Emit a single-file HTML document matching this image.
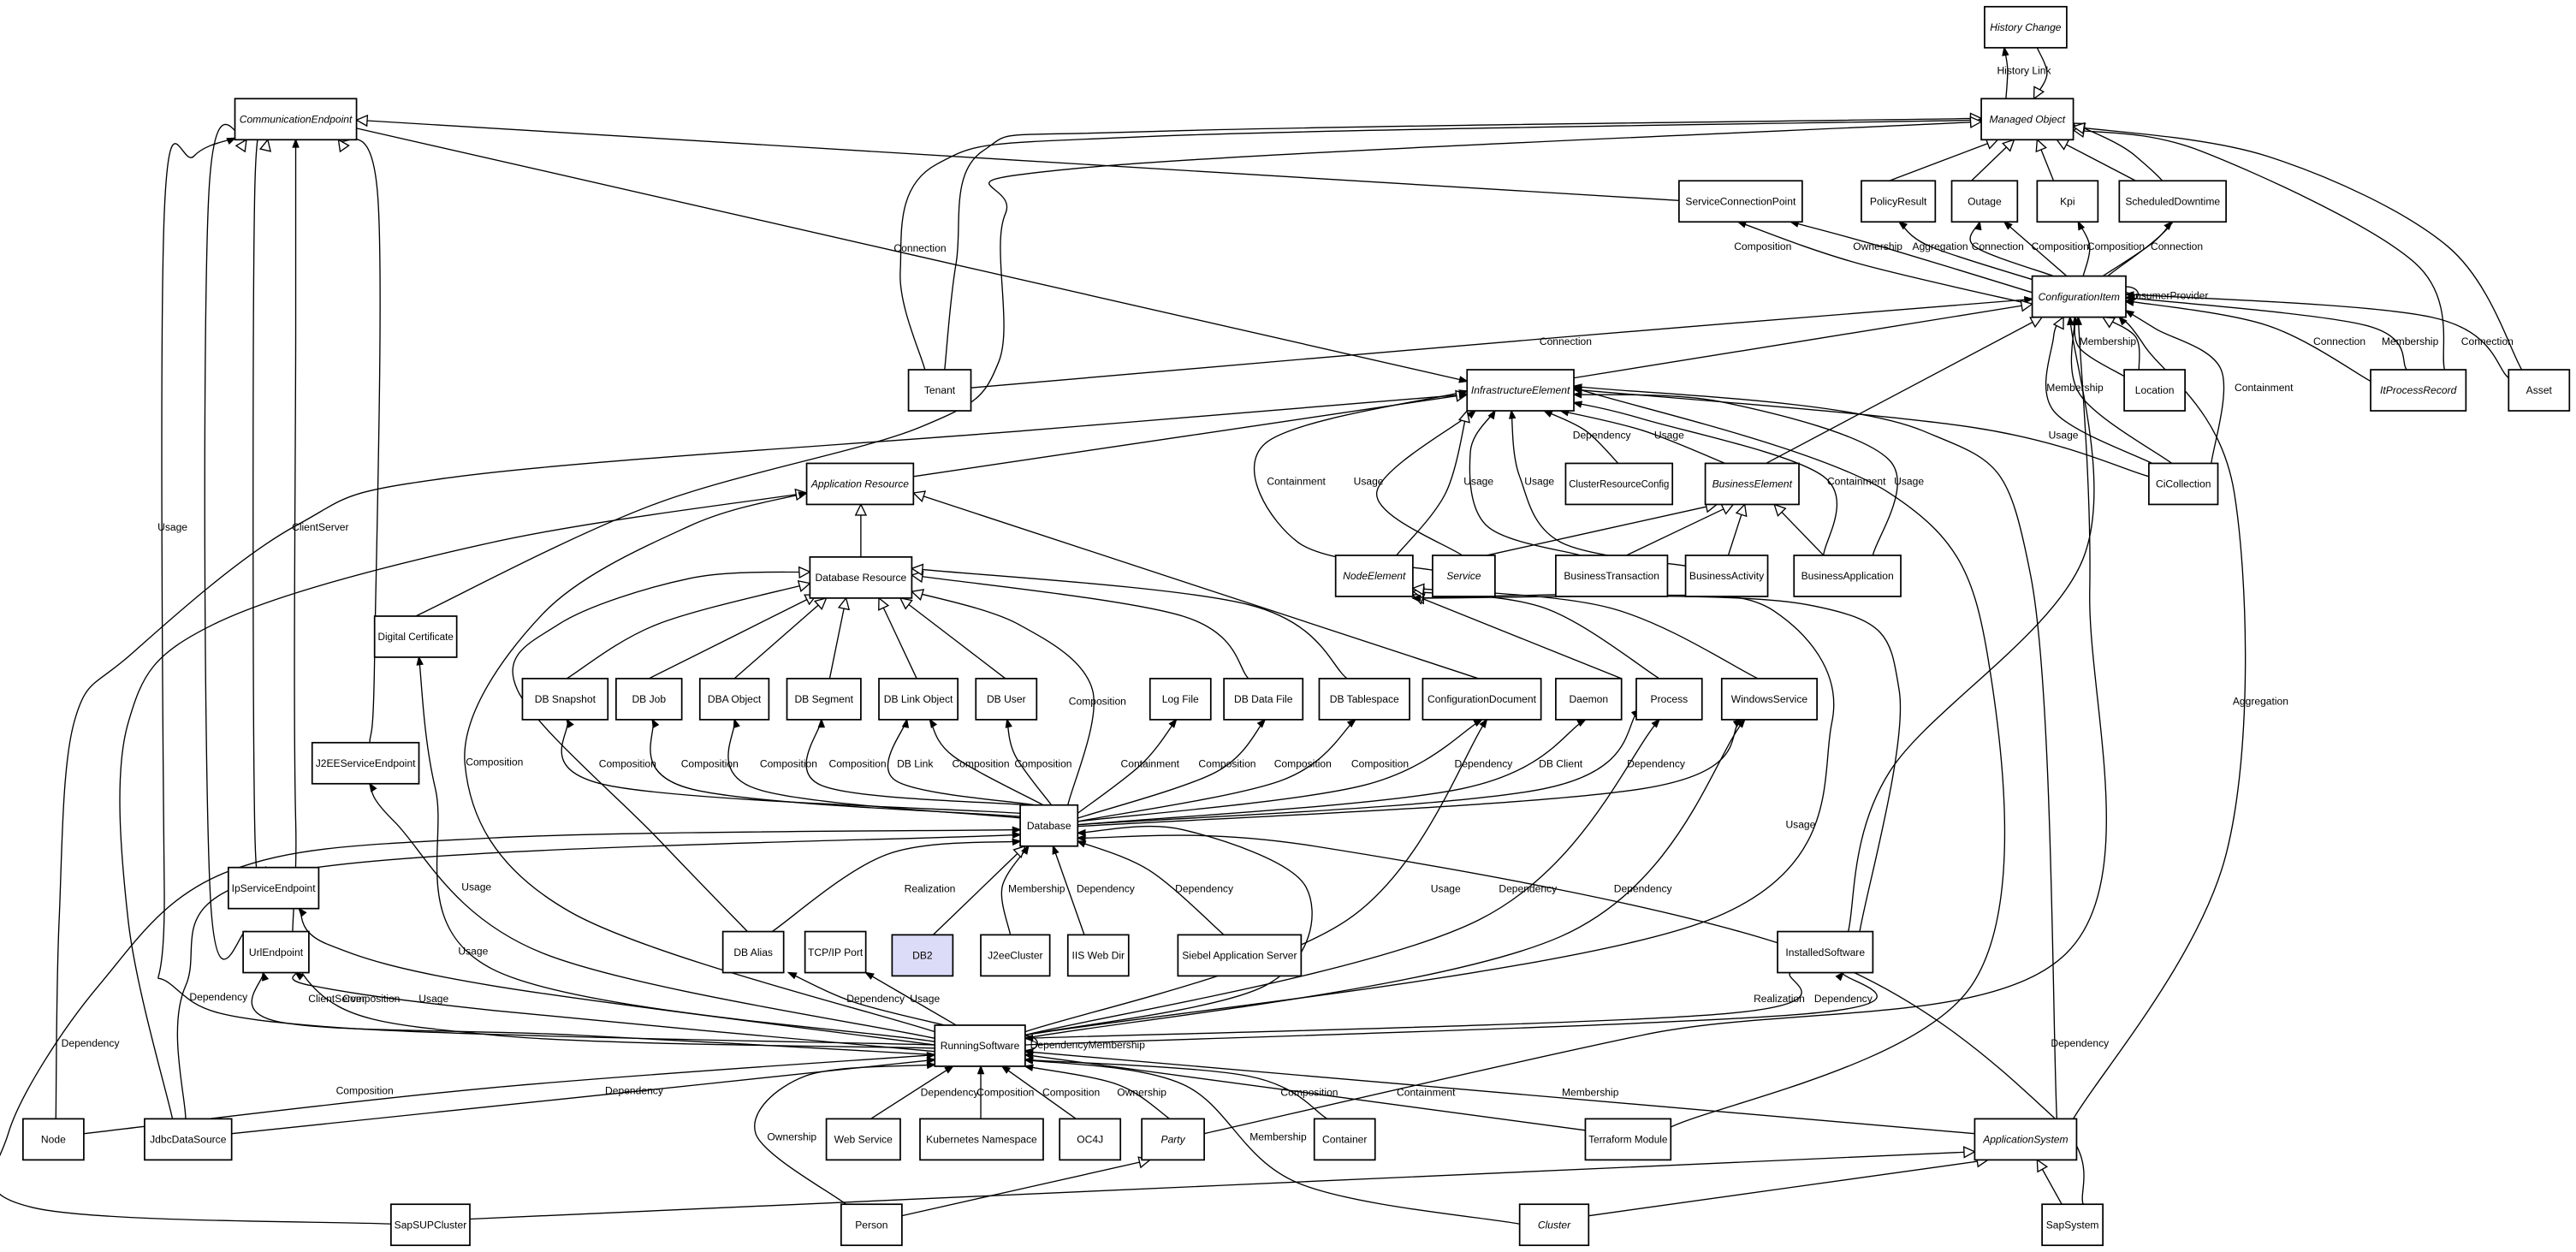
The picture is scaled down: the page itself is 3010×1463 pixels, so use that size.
<!DOCTYPE html>
<html><head><meta charset="utf-8">
<style>
html,body{margin:0;padding:0;background:#fff;}
svg{display:block;}
text{font-family:"Liberation Sans",sans-serif;}
</style></head>
<body>
<svg id="s" width="3010" height="1463" viewBox="0 0 1568 762" xmlns="http://www.w3.org/2000/svg">
<rect width="1568" height="762" fill="#fff"/>
<g id="edges" fill="none" stroke="#000" stroke-width="0.7"></g>
<g id="heads"></g>
<g id="elabels" font-size="6.3" fill="#000"></g>
<g id="nodes"></g>
</svg>
<script>
var N={
HC:[1208,4,50,25,"History Change",1],
MO:[1206,60,56,25,"Managed Object",1],
CE:[143,60,74,25,"CommunicationEndpoint",1],
SCP:[1022,110,75,25,"ServiceConnectionPoint"],
PR:[1133,110,45,25,"PolicyResult"],
OUT:[1188,110,40,25,"Outage"],
KPI:[1240,110,37,25,"Kpi"],
SD:[1290,110,65,25,"ScheduledDowntime"],
CI:[1237,168,57,25,"ConfigurationItem",1],
TEN:[553,225,38,25,"Tenant"],
IE:[893,225,65,25,"InfrastructureElement",1],
LOC:[1293,225,37,25,"Location"],
IPR:[1443,225,58,25,"ItProcessRecord",1],
AS:[1527,225,37,25,"Asset"],
CRC:[953,282,65,25,"ClusterResourceConfig"],
BE:[1038,282,57,25,"BusinessElement",1],
CIC:[1308,282,42,25,"CiCollection"],
AR:[491,282,65,25,"Application Resource",1],
DR:[493,339,62,25,"Database Resource"],
DC:[228,375,50,25,"Digital Certificate"],
NE:[813,338,47,25,"NodeElement",1],
SV:[872,338,38,25,"Service",1],
BT:[947,338,68,25,"BusinessTransaction"],
BA:[1026,338,50,25,"BusinessActivity"],
BAP:[1092,338,65,25,"BusinessApplication"],
DBS:[318,413,52,25,"DB Snapshot"],
DBJ:[375,413,40,25,"DB Job"],
DBA:[426,413,42,25,"DBA Object"],
DBSG:[479,413,45,25,"DB Segment"],
DBL:[535,413,48,25,"DB Link Object"],
DBU:[594,413,37,25,"DB User"],
LF:[700,413,37,25,"Log File"],
DBD:[745,413,48,25,"DB Data File"],
DBT:[803,413,55,25,"DB Tablespace"],
CD:[866,413,72,25,"ConfigurationDocument"],
DAE:[947,413,40,25,"Daemon"],
PRC:[996,413,40,25,"Process"],
WS:[1048,413,58,25,"WindowsService"],
J2S:[190,452,65,25,"J2EEServiceEndpoint"],
DB:[621,490,35,25,"Database"],
IPS:[139,528,55,25,"IpServiceEndpoint"],
URL:[148,567,40,25,"UrlEndpoint"],
DBAL:[440,567,37,25,"DB Alias"],
TCP:[490,567,37,25,"TCP/IP Port"],
DB2:[543,569,37,25,"DB2",0,"#dcdcf8"],
J2C:[597,569,42,25,"J2eeCluster"],
IIS:[650,569,37,25,"IIS Web Dir"],
SAS:[717,569,75,25,"Siebel Application Server"],
IS:[1082,567,58,25,"InstalledSoftware"],
RS:[569,624,55,25,"RunningSoftware"],
NODE:[14,681,37,25,"Node"],
JDS:[88,681,53,25,"JdbcDataSource"],
WEB:[503,681,45,25,"Web Service"],
K8:[560,681,75,25,"Kubernetes Namespace"],
OC:[645,681,37,25,"OC4J"],
PTY:[695,681,38,25,"Party",1],
CON:[800,681,37,25,"Container"],
TF:[965,681,52,25,"Terraform Module"],
APS:[1202,681,62,25,"ApplicationSystem",1],
SUP:[238,733,48,25,"SapSUPCluster"],
PER:[512,733,37,25,"Person"],
CL:[925,733,42,25,"Cluster",1],
SAP:[1243,733,37,25,"SapSystem"]
};
var E=[
["History Link","a",[1221,60],[[1222,42]],[1220,29],1232,45],
["","g",[1240,29],[[1246,45]],[1238,60]],
["","g",[1150,110],[],[1216,85]],
["","g",[1200,110],[],[1226,85]],
["","g",[1250,110],[],[1240,85]],
["","g",[1300,110],[],[1252,85]],
["","g",[1283,168],[[1325,130],[1300,95]],[1262,75]],
["","g",[1488,225],[[1470,160],[1340,92]],[1262,79]],
["","g",[1535,225],[[1490,150],[1380,95]],[1262,77]],
["","g",[1022,122],[],[217,73]],
["","g",[563,225],[[548,165],[570,100],[700,83]],[1206,73]],
["","g",[575,225],[[582,160],[598,92],[700,80]],[1206,72]],
["","g",[253,375],[[398,307],[560,260],[608,220],[612,130],[660,102]],[1206,74]],
["Composition","a",[1240,186],[[1130,160]],[1058,135],1073,152],
["Ownership","a",[1237,178],[[1145,150]],[1090,135],1143,152],
["Aggregation","a",[1240,171],[[1175,150]],[1156,135],1181,152],
["Connection","a",[1250,168],[[1202,150]],[1205,135],1216,152],
["Composition","a",[1258,168],[[1235,148]],[1220,135],1254,152],
["Composition","a",[1268,168],[[1272,150]],[1265,135],1288,152],
["Connection","a",[1280,168],[[1310,148]],[1322,135],1325,152],
["Connection","a",[591,236],[[953,205]],[1237,182],953,210],
["","g",[958,230],[],[1237,185]],
["","g",[1075,282],[],[1243,193]],
["","g",[1302,225],[[1300,205]],[1280,193]],
["Membership","a",[1293,229],[[1266,212]],[1263,193],1283,210],
["Membership","g",[1310,282],[[1250,250],[1250,205]],[1256,193],1263,238],
["","a",[1322,282],[[1266,240]],[1263,193]],
["Containment","a",[1346,282],[[1352,225],[1312,200]],[1294,189],1378,238],
["Connection","a",[1443,232],[[1380,198]],[1294,183],1424,210],
["Membership","a",[1465,225],[[1440,198]],[1294,181],1467,210],
["Connection","a",[1527,230],[[1480,193]],[1294,179],1514,210],
["Usage","a",[1308,290],[[1200,260]],[958,237],1256,267],
["Aggregation","a",[1262,681],[[1355,520],[1360,300],[1305,210]],[1290,193],1376,429],
["","a",[1252,681],[[1236,350],[1170,262]],[958,235]],
["","a",[1125,567],[[1150,470],[1268,340]],[1260,193]],
["","a",[733,690],[[1000,630],[1258,580],[1272,360]],[1265,193]],
["","g",[1132,567],[[1156,420],[1100,368]],[860,364]],
["","g",[987,413],[],[860,362]],
["","g",[1010,413],[[940,370]],[860,360]],
["","g",[1070,413],[[980,370]],[860,358]],
["","a",[1017,686],[[1200,600],[1210,400],[1150,300]],[958,236]],
["Connection","a",[217,78],[],[893,232],560,153],
["","g",[556,290],[],[893,240]],
["","a",[34,681],[[36,560],[45,440],[80,398],[180,320],[279,290],[625,262]],[893,240]],
["Containment","a",[872,347],[[790,330],[770,270]],[893,238],789,295],
["Usage","a",[890,338],[[838,300]],[898,250],833,295],
["Usage","a",[962,338],[[905,320],[895,275]],[910,250],900,295],
["Usage","a",[1030,345],[[950,330],[925,290]],[920,250],937,295],
["","g",[850,338],[[880,300]],[893,250]],
["Dependency","a",[985,282],[[965,262]],[940,250],975,267],
["Usage","a",[1050,282],[[1000,262]],[950,250],1016,267],
["Containment","a",[1110,338],[[1110,290],[1000,255]],[958,245],1130,295],
["Usage","a",[1140,338],[[1150,280],[1050,245]],[958,240],1162,295],
["","g",[905,338],[],[1045,307]],
["","g",[990,338],[],[1055,307]],
["","g",[1052,338],[],[1062,307]],
["","g",[1110,338],[],[1080,307]],
["","g",[524,339],[],[524,307]],
["","g",[900,413],[],[556,300]],
["","g",[105,681],[[78,560],[78,440],[130,380],[300,330]],[491,300]],
["","g",[345,413],[[400,380]],[493,355]],
["","g",[395,413],[],[497,362]],
["","g",[447,413],[],[503,364]],
["","g",[505,413],[],[515,364]],
["","g",[558,413],[],[535,364]],
["","g",[612,413],[],[548,364]],
["","g",[760,413],[[720,375]],[555,350]],
["","g",[820,413],[[760,368]],[555,346]],
["Composition","g",[650,490],[[665,420],[620,380]],[555,360],668,429],
["Composition","a",[621,495],[[370,478]],[345,438],382,467],
["Composition","a",[621,497],[[420,480]],[397,438],432,467],
["Composition","a",[622,498],[[460,480]],[447,438],480,467],
["Composition","a",[625,490],[[500,478]],[500,438],522,467],
["DB Link","a",[630,490],[[545,475]],[552,438],557,467],
["Composition","a",[635,490],[[580,460]],[566,438],597,467],
["Composition","a",[640,490],[[618,460]],[613,438],635,467],
["Containment","a",[656,495],[[695,465]],[716,438],700,467],
["Composition","a",[656,498],[[740,470]],[770,438],747,467],
["Composition","a",[656,500],[[780,475]],[825,438],793,467],
["Composition","a",[656,500],[[830,478]],[902,438],840,467],
["Dependency","a",[656,502],[[890,480]],[965,438],903,467],
["DB Client","a",[656,502],[[940,480]],[998,432],950,467],
["Dependency","a",[656,503],[[1000,480]],[1060,438],1008,467],
["Realization","a",[470,567],[[540,520]],[621,512],566,543],
["","g",[568,569],[],[624,515]],
["Membership","a",[615,569],[[610,540]],[626,515],631,543],
["Dependency","a",[660,569],[],[641,515],673,543],
["Dependency","a",[745,569],[[700,530]],[656,512],733,543],
["","a",[624,630],[[770,600],[795,540],[720,505]],[656,507]],
["","g",[455,567],[[400,510],[315,420],[340,380],[420,352]],[493,348]],
["Usage","a",[569,636],[[200,625],[105,600],[100,540],[100,130],[118,95]],[143,84],105,323],
["ClientServer","a",[569,638],[[300,630],[190,600],[180,500],[180,200]],[180,85],195,323],
["","g",[150,567],[[128,545],[127,120]],[150,85]],
["","g",[162,528],[[155,500],[155,120]],[163,85]],
["","g",[225,452],[[228,400],[230,120]],[206,85]],
["ClientServer","a",[569,642],[[350,630],[170,622]],[160,592],205,610],
["Composition","a",[569,640],[[300,615],[190,600]],[180,592],226,610],
["Usage","a",[569,636],[[300,600],[200,575]],[182,553],264,610],
["Usage","a",[569,632],[[330,580],[240,500]],[225,477],288,581],
["Usage","a",[569,634],[[300,590],[265,480]],[255,400],290,542],
["Composition","a",[569,628],[[347,555],[283,465],[330,374],[420,320]],[491,300],301,466],
["Dependency","a",[575,624],[[520,610]],[480,592],533,610],
["Usage","a",[582,624],[],[527,592],563,610],
["Usage","a",[624,628],[[820,560]],[905,438],880,543],
["Dependency","a",[624,630],[[900,560]],[1010,438],930,543],
["Dependency","a",[624,632],[[950,570]],[1062,438],1000,543],
["Usage","a",[624,630],[[1040,560],[1115,440],[1080,372],[1000,362]],[860,364],1096,504],
["Realization","a",[1090,592],[[1050,617]],[624,632],1083,610],
["Dependency","a",[624,636],[[1100,617]],[1122,592],1122,610],
["Composition","a",[51,690],[[300,662]],[569,642],222,666],
["Dependency","a",[141,690],[[380,665]],[569,645],386,666],
["Dependency","a",[530,681],[],[580,649],578,667],
["Composition","a",[597,681],[],[597,649],612,667],
["Composition","a",[655,681],[],[610,649],652,667],
["Ownership","a",[712,681],[[680,660]],[624,649],695,667],
["Composition","a",[808,681],[[760,655]],[624,645],797,667],
["Containment","a",[965,688],[],[624,642],868,667],
["Membership","a",[1202,690],[],[624,640],968,667],
["Membership","a",[925,745],[[790,720],[720,660]],[624,645],778,694],
["Ownership","a",[515,733],[[460,690],[490,655]],[569,648],482,694],
["","g",[549,740],[],[700,706]],
["","g",[286,742],[],[1202,701]],
["","g",[967,740],[],[1210,706]],
["","g",[1255,733],[],[1240,706]],
["Dependency","a",[1268,733],[[1250,680],[1100,580],[800,515]],[656,510],1266,637],
["Dependency","a",[238,745],[[20,735],[5,690],[60,600],[140,530],[300,510]],[621,505],55,637],
["Dependency","a",[113,681],[[113,600],[180,530]],[621,508],133,609]
];
var ns="http://www.w3.org/2000/svg";
function el(t,a,p){var e=document.createElementNS(ns,t);for(var k in a)e.setAttribute(k,a[k]);document.getElementById(p).appendChild(e);return e;}
function head(x,y,fx,fy,t){
 var dx=x-fx,dy=y-fy,L=Math.hypot(dx,dy)||1;dx/=L;dy/=L;
 var len=t=="g"?6.5:4.5,w=t=="g"?3.2:1.7;
 var bx=x-dx*len,by=y-dy*len;
 el("polygon",{points:x+","+y+" "+(bx-dy*w)+","+(by+dx*w)+" "+(bx+dy*w)+","+(by-dx*w),fill:t=="g"?"#fff":"#000",stroke:"#000","stroke-width":"0.7"},"heads");}
function label(s,x,y){var t=el("text",{x:x,y:y,"text-anchor":"middle"},"elabels");t.textContent=s;}
E.forEach(function(e){
 var P=[e[2]].concat(e[3]).concat([e[4]]);
 var d="M"+P[0][0]+" "+P[0][1],lc=P[0];
 for(var i=0;i<P.length-1;i++){
   var p0=P[i-1]||P[i],p1=P[i],p2=P[i+1],p3=P[i+2]||P[i+1];
   var c1=[p1[0]+(p2[0]-p0[0])/6,p1[1]+(p2[1]-p0[1])/6];
   var c2=[p2[0]-(p3[0]-p1[0])/6,p2[1]-(p3[1]-p1[1])/6];
   d+=" C"+c1[0].toFixed(1)+" "+c1[1].toFixed(1)+" "+c2[0].toFixed(1)+" "+c2[1].toFixed(1)+" "+p2[0]+" "+p2[1];
   lc=c2;
 }
 el("path",{d:d},"edges");
 var q=e[4];
 if(Math.hypot(q[0]-lc[0],q[1]-lc[1])<0.5)lc=P[P.length-2];
 head(q[0],q[1],lc[0],lc[1],e[1]);
 if(e[0]){var lx=e[5],ly=e[6];if(lx==null){lx=(P[0][0]+q[0])/2;ly=(P[0][1]+q[1])/2;}label(e[0],lx,ly);}
});
function loop(n,lbl,lx,ly){var A=N[n],x=A[0]+A[2],y=A[1]+A[3]/2;
 el("path",{d:"M"+x+" "+(y-6)+" C"+(x+10)+" "+(y-6)+" "+(x+10)+" "+(y+3)+" "+x+" "+(y+3)},"edges");
 head(x,y+3,x+7,y+4,"a");label(lbl,lx,ly);}
loop("CI","ConsumerProvider",1318,182);
loop("RS","DependencyMembership",662,638);
for(var k in N){var n=N[k];
 el("rect",{x:n[0],y:n[1],width:n[2],height:n[3],fill:n[6]||"#fff",stroke:"#000","stroke-width":"0.9"},"nodes");
 var t=el("text",{x:n[0]+n[2]/2,y:n[1]+n[3]/2+2.2,"text-anchor":"middle","font-size":"6.3","font-style":n[5]?"italic":"normal"},"nodes");
 t.textContent=n[4];
 var w=t.getComputedTextLength? t.getComputedTextLength():0;
 if(w>n[2]-3){t.setAttribute("textLength",n[2]-4);t.setAttribute("lengthAdjust","spacingAndGlyphs");}
}
</script>
</body></html>
